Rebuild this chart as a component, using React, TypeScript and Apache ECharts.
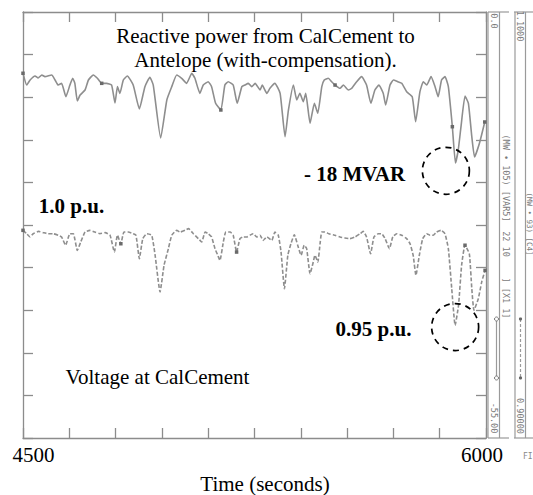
import React, { useEffect, useRef } from "react";
import * as echarts from "echarts";

// Reactive power from CalCement to Antelope (MVAR)
const qTimes = [
  4500, 4512, 4523, 4539, 4549, 4561, 4571, 4593, 4604, 4614,
  4625, 4639, 4652, 4661, 4668, 4676, 4685, 4701, 4712, 4728,
  4741, 4755, 4771, 4787, 4798, 4806, 4814, 4825, 4838, 4857,
  4877, 4895, 4911, 4922, 4946, 4966, 4982, 4998, 5014, 5030,
  5047, 5057, 5073, 5084, 5100, 5111, 5124, 5141, 5154, 5165,
  5181, 5194, 5209, 5219, 5230, 5241, 5252, 5268, 5275, 5290,
  5300, 5316, 5333, 5349, 5360, 5376, 5387, 5397, 5408, 5416,
  5430, 5444, 5455, 5468, 5476, 5489, 5500, 5511, 5527, 5538,
  5554, 5565, 5581, 5597, 5613, 5627, 5640, 5653, 5667, 5675,
  5689, 5700, 5714, 5727, 5743, 5761, 5772, 5786, 5797, 5808,
  5822, 5835, 5845, 5856, 5867, 5878, 5891, 5901, 5910, 5919,
  5932, 5943, 5954, 5963, 5979, 5996,
];
const reactivePower = [
  -7.91, -9.43, -8.78, -8.26, -8.52, -8.13, -8.35, -8.13, -8.78, -9.43,
  -9.21, -10.94, -9.43, -8.56, -9.21, -11.49, -10.72, -10.07, -8.78, -8.13,
  -8.56, -9.21, -9.21, -9.43, -11.75, -9.64, -10.5, -8.78, -8.26, -9.43,
  -12.52, -9.64, -8.43, -9.43, -16.27, -11.36, -9.64, -8.13, -8.56, -9.21,
  -7.91, -8.56, -10.5, -9.43, -9.0, -9.64, -11.79, -12.65, -9.43, -9.0,
  -9.43, -11.79, -9.64, -9.43, -9.21, -9.64, -9.21, -10.07, -9.43, -10.5,
  -9.85, -9.21, -10.5, -16.1, -12.65, -9.43, -11.36, -10.5, -11.58, -10.5,
  -14.37, -11.79, -13.08, -9.64, -8.78, -8.56, -9.0, -9.43, -9.85, -9.43,
  -10.07, -9.85, -9.0, -8.35, -9.43, -11.79, -10.07, -9.43, -10.5, -12.01,
  -9.43, -8.78, -9.0, -9.21, -10.29, -10.94, -14.16, -10.29, -9.0, -9.43,
  -8.35, -9.64, -10.94, -8.78, -8.35, -9.64, -14.81, -19.5, -17.82, -14.81,
  -10.85, -11.79, -16.1, -18.72, -16.91, -14.2,
];
const qMarkerIdx = [0, 21, 47, 77, 106, 115];

// Voltage at CalCement (p.u.)
const vTimes = [
  4500, 4512, 4523, 4533, 4550, 4566, 4582, 4598, 4614, 4625,
  4638, 4652, 4663, 4676, 4687, 4701, 4717, 4733, 4749, 4766,
  4782, 4796, 4806, 4817, 4827, 4841, 4857, 4866, 4877, 4888,
  4901, 4917, 4928, 4944, 4957, 4971, 4982, 4998, 5009, 5025,
  5036, 5052, 5068, 5079, 5090, 5100, 5111, 5122, 5131, 5138,
  5149, 5157, 5171, 5181, 5192, 5203, 5214, 5225, 5235, 5246,
  5257, 5268, 5278, 5290, 5306, 5316, 5327, 5336, 5347, 5358,
  5368, 5379, 5390, 5401, 5411, 5419, 5430, 5439, 5446, 5455,
  5463, 5468, 5478, 5491, 5505, 5511, 5527, 5543, 5559, 5576,
  5592, 5602, 5613, 5626, 5637, 5651, 5662, 5673, 5687, 5698,
  5711, 5727, 5743, 5754, 5764, 5773, 5784, 5795, 5808, 5819,
  5829, 5840, 5854, 5867, 5878, 5889, 5900, 5911, 5921, 5932,
  5946, 5954, 5961, 5975, 5986, 5997,
];
const voltage = [
  0.9975, 0.9959, 0.9944, 0.9959, 0.997, 0.9964, 0.9959, 0.9959, 0.9952, 0.9944,
  0.9905, 0.9959, 0.9959, 0.9881, 0.992, 0.9967, 0.9975, 0.9967, 0.9959, 0.9964,
  0.9952, 0.9873, 0.9952, 0.9912, 0.9967, 0.9967, 0.9959, 0.9952, 0.9842, 0.9936,
  0.9959, 0.9952, 0.9858, 0.9686, 0.9811, 0.9889, 0.9952, 0.9975, 0.9967, 0.9975,
  0.9983, 0.9959, 0.9936, 0.992, 0.9967, 0.9959, 0.9944, 0.9889, 0.9858, 0.9834,
  0.992, 0.9967, 0.9967, 0.9952, 0.9873, 0.9936, 0.9944, 0.9944, 0.9952, 0.9959,
  0.9944, 0.9952, 0.9928, 0.9944, 0.9928, 0.9967, 0.9952, 0.9873, 0.9701, 0.9858,
  0.9912, 0.9954, 0.9905, 0.9858, 0.9905, 0.9889, 0.9771, 0.9818, 0.9858, 0.9826,
  0.992, 0.9967, 0.9967, 0.9959, 0.9954, 0.9952, 0.9944, 0.9939, 0.9936, 0.9944,
  0.9959, 0.997, 0.9944, 0.9865, 0.9944, 0.9959, 0.9959, 0.9936, 0.9889, 0.9944,
  0.9959, 0.9952, 0.9936, 0.9912, 0.9858, 0.9764, 0.9858, 0.9936, 0.9959, 0.9952,
  0.9952, 0.9967, 0.9975, 0.9959, 0.9889, 0.9701, 0.9529, 0.9623, 0.9811, 0.9905,
  0.9865, 0.9701, 0.96, 0.9654, 0.9732, 0.9787,
];
const vMarkerIdx = [0, 23, 54, 119, 125];

// Axis ranges and labels
const timeRange = [4500, 6000];
const timeStep = 150;
const qRange = [-55, 0];
const qStep = 5.5;
const vRange = [0.9, 1.1];
const vStep = 0.02;
const xTickLabels = ["4500", "6000"];
const xAxisName = "Time (seconds)";
const titleLines = ["Reactive power from CalCement to", "Antelope (with-compensation)."];
const qAnnotation = "- 18 MVAR";
const vLevelLabel = "1.0 p.u.";
const vAnnotation = "0.95 p.u.";
const vCaption = "Voltage at CalCement";
// circled minima (time, value)
const qCircle = [5870, -20.5];
const vCircle = [5900, 0.9521];
// instrument side panel texts
const panelQ = { top: "0.0", bottom: "-55.00", name: "(MW • 105) [VAR5]", mid: "22 10", tag: "] [X1 1]" };
const panelV = { top: "1.1000", bottom: "0.90000", name: "(MW • 93) [C4]" };

const FRAME = "#8c8c8c";
const SERIF = "'Liberation Serif', 'Times New Roman', serif";
const MONO = "'DejaVu Sans Mono', monospace";

function buildData(ts: number[], vs: number[], markers: number[], color: string) {
  return ts.map((t, i) =>
    markers.includes(i)
      ? { value: [t, vs[i]], symbol: "rect", symbolSize: 3.5, itemStyle: { color } }
      : { value: [t, vs[i]] }
  );
}

function axisCommon(position: string) {
  return {
    position,
    axisLine: { show: true, onZero: false, lineStyle: { color: FRAME, width: 1.3 } },
    axisTick: { show: true, inside: true, length: 10, lineStyle: { color: FRAME, width: 1.3 } },
    axisLabel: { show: false },
    splitLine: { show: false },
  };
}

function vText(x: number, y: number, text: string, size = 8.5) {
  return {
    type: "text",
    x,
    y,
    rotation: -Math.PI / 2,
    style: {
      text,
      fontSize: size,
      fontFamily: MONO,
      fill: "#7a7a7a",
      align: "center",
      verticalAlign: "middle",
      textAlign: "center",
      textVerticalAlign: "middle",
    },
  };
}

function hText(x: number, y: number, text: string, bold = false, align = "center") {
  return {
    type: "text",
    x,
    y,
    style: {
      text,
      fontSize: 21,
      fontFamily: SERIF,
      fontWeight: bold ? "bold" : "normal",
      fill: "#000",
      align,
      verticalAlign: "middle",
      textAlign: align,
      textVerticalAlign: "middle",
    },
  };
}

function vline(x: number, y1: number, y2: number, dash?: number[]) {
  return {
    type: "line",
    shape: { x1: x, y1, x2: x, y2 },
    style: { stroke: "#9a9a9a", lineWidth: 1.2, lineDash: dash },
  };
}
function hline(x1: number, x2: number, y: number) {
  return { type: "line", shape: { x1, y1: y, x2, y2: y }, style: { stroke: "#9a9a9a", lineWidth: 1.2 } };
}

export default function App() {
  const ref = useRef<HTMLDivElement>(null);
  useEffect(() => {
    document.body.style.margin = "0";
    const chart = echarts.init(ref.current!, null, { renderer: "svg" });
    const circleMark = (coord: number[]) => ({
      silent: true,
      symbol: "circle",
      symbolSize: 47,
      label: { show: false },
      itemStyle: { color: "rgba(0,0,0,0)", borderColor: "#000", borderWidth: 1.7, borderType: [6, 5] },
      data: [{ coord }],
    });
    const option: any = {
      animation: false,
      backgroundColor: "#fff",
      grid: { left: 23, top: 12, right: 47, bottom: 57 },
      xAxis: [
        { type: "value", min: timeRange[0], max: timeRange[1], interval: timeStep, ...axisCommon("bottom") },
        { type: "value", min: timeRange[0], max: timeRange[1], interval: timeStep, ...axisCommon("top") },
      ],
      yAxis: [
        { type: "value", min: qRange[0], max: qRange[1], interval: qStep, ...axisCommon("left") },
        { type: "value", min: vRange[0], max: vRange[1], interval: vStep, ...axisCommon("right") },
      ],
      series: [
        {
          type: "line",
          xAxisIndex: 0,
          yAxisIndex: 0,
          symbol: "none",
          showSymbol: true,
          showAllSymbol: true,
          smooth: 0.15,
          lineStyle: { color: "#8e8e8e", width: 1.6 },
          itemStyle: { color: "#6a6a6a" },
          data: buildData(qTimes, reactivePower, qMarkerIdx, "#6a6a6a"),
          markPoint: circleMark(qCircle),
          z: 3,
        },
        {
          type: "line",
          xAxisIndex: 0,
          yAxisIndex: 1,
          symbol: "none",
          showSymbol: true,
          showAllSymbol: true,
          smooth: 0.15,
          lineStyle: { color: "#8e8e8e", width: 1.6, type: [4, 2] },
          itemStyle: { color: "#6a6a6a" },
          data: buildData(vTimes, voltage, vMarkerIdx, "#6a6a6a"),
          markPoint: circleMark(vCircle),
          z: 3,
        },
      ],
      graphic: [
        hText(265.5, 36, titleLines[0]),
        hText(265.5, 60, titleLines[1]),
        hText(354.5, 173.5, qAnnotation, true),
        hText(71.5, 206, vLevelLabel, true),
        hText(373.5, 328.5, vAnnotation, true),
        hText(157.5, 377, vCaption),
        hText(33.5, 455, xTickLabels[0]),
        hText(482, 455, xTickLabels[1]),
        hText(265, 484, xAxisName),
        // side instrument panels
        vline(488, 12, 438),
        vline(499.5, 12, 438),
        hline(488, 509, 12),
        hline(488, 509, 438),
        vline(515, 12, 438),
        vline(525.5, 12, 438),
        hline(514, 533, 12),
        hline(514, 533, 438),
        vText(494, 21, panelQ.top),
        vText(494, 418, panelQ.bottom),
        vText(505.5, 178, panelQ.name),
        vText(505.5, 244, panelQ.mid),
        vText(505.5, 298, panelQ.tag),
        vText(520, 26, panelV.top),
        vText(520, 416, panelV.bottom),
        vText(529, 224, panelV.name, 7.5),
        vline(496.5, 319, 378),
        { type: "circle", shape: { cx: 496.5, cy: 319, r: 2 }, style: { stroke: "#777", fill: "#fff", lineWidth: 1 } },
        { type: "circle", shape: { cx: 496.5, cy: 378, r: 2 }, style: { stroke: "#777", fill: "#fff", lineWidth: 1 } },
        vline(520.5, 319, 378, [3, 2]),
        { type: "circle", shape: { cx: 520.5, cy: 319, r: 1.6 }, style: { fill: "#666" } },
        { type: "circle", shape: { cx: 520.5, cy: 378, r: 1.6 }, style: { fill: "#666" } },
        {
          type: "text",
          x: 523,
          y: 456,
          style: { text: "FI", fontSize: 8, fontFamily: MONO, fill: "#888", verticalAlign: "middle", textVerticalAlign: "middle" },
        },
      ],
    };
    chart.setOption(option);
    return () => chart.dispose();
  }, []);
  return <div ref={ref} style={{ width: 533, height: 495 }} />;
}
